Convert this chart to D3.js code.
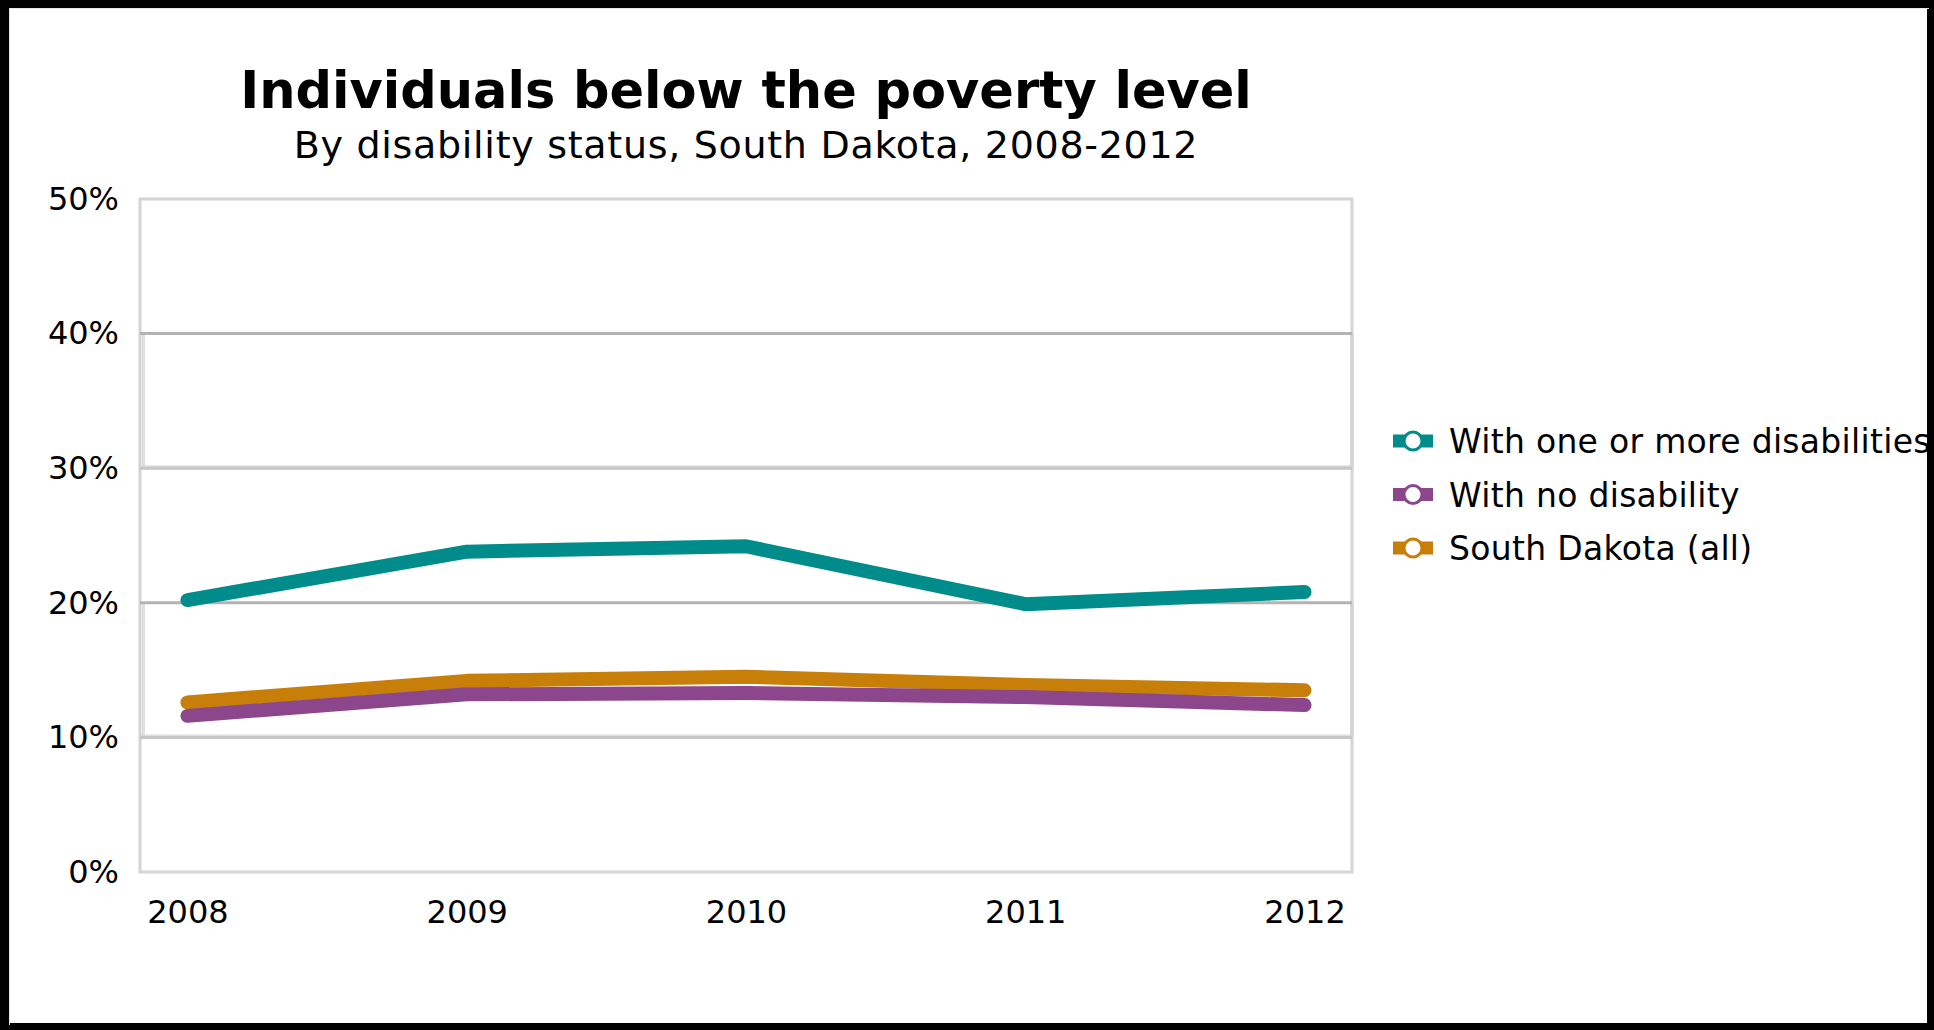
<!DOCTYPE html>
<html lang="en">
<head>
    <meta charset="UTF-8">
    <title>Individuals below the poverty level</title>
    <style>
        body {
            margin: 0;
            background: #ffffff;
            overflow: hidden;
        }
        svg text {
            font-family: "DejaVu Sans", sans-serif;
            fill: #000;
        }
    </style>
</head>
<body>
    <svg id="chart" width="1934" height="1030"></svg>
    <script src="https://d3js.org/d3.v7.min.js"></script>
    <script>
        // data (percent)
        const years = ["2008", "2009", "2010", "2011", "2012"];
        const withDisability = [20.2, 23.8, 24.2, 19.9, 20.8];
        const noDisability = [11.6, 13.2, 13.3, 13.0, 12.4];
        const southDakotaAll = [12.6, 14.2, 14.5, 13.9, 13.5];
        const yTicks = [0, 10, 20, 30, 40, 50];

        const seriesNames = ["With one or more disabilities", "With no disability", "South Dakota (all)"];
        const seriesColors = ["#008c8a", "#8c468c", "#c77f0a"];
        const seriesValues = [withDisability, noDisability, southDakotaAll];

        const series = seriesNames.map((name, i) => ({
            name: name,
            color: seriesColors[i],
            values: seriesValues[i].map((v, j) => ({ year: years[j], value: v }))
        }));

        const svg = d3.select("#chart");
        const W = 1934, H = 1030;

        // outer black frame
        svg.append("rect")
            .attr("x", 0).attr("y", 0).attr("width", W).attr("height", H)
            .attr("fill", "#ffffff");
        svg.append("path")
            .attr("d", `M4.5,0V${H}M0,4H${W}M${W - 2.5},0V${H}M0,${H - 2.5}H${W}`)
            .attr("stroke", "#000").attr("stroke-width", 9).attr("fill", "none");
        svg.append("path")
            .attr("d", `M9.5,8V${H - 5}M9,8.5H${W - 5}`)
            .attr("stroke", "#e6e6e6").attr("stroke-width", 1).attr("fill", "none");

        const plot = { left: 140, right: 1352, top: 199, bottom: 872 };

        const x = d3.scalePoint()
            .domain(years)
            .range([plot.left, plot.right])
            .padding(0.17);

        const y = d3.scaleLinear()
            .domain([0, 50])
            .range([plot.bottom, plot.top]);

        const g = svg.append("g");

        // alternating bands with bevelled edges
        [[30, 40], [10, 20]].forEach(([lo, hi]) => {
            const band = g.append("g");
            band.append("line")
                .attr("x1", x.range()[0] + 3.5).attr("x2", x.range()[0] + 3.5)
                .attr("y1", y(hi)).attr("y2", y(lo))
                .attr("stroke", "#dedede").attr("stroke-width", 3);
            band.append("line")
                .attr("x1", plot.left).attr("x2", plot.right)
                .attr("y1", y(lo) - 2).attr("y2", y(lo) - 2)
                .attr("stroke", "#dedede").attr("stroke-width", 2);
            band.append("line")
                .attr("x1", plot.right).attr("x2", plot.right)
                .attr("y1", y(hi)).attr("y2", y(lo))
                .attr("stroke", "#bcbcbc").attr("stroke-width", 3);
        });

        // outer plot border
        g.append("rect")
            .attr("x", plot.left).attr("y", plot.top)
            .attr("width", plot.right - plot.left).attr("height", plot.bottom - plot.top)
            .attr("fill", "none").attr("stroke", "#d4d4d4").attr("stroke-width", 3);

        // gridlines
        g.selectAll(".grid")
            .data(yTicks.filter(t => t > 0 && t < 50))
            .enter().append("line")
            .attr("class", "grid")
            .attr("x1", plot.left).attr("x2", plot.right)
            .attr("y1", d => y(d)).attr("y2", d => y(d))
            .attr("stroke", d => (d % 20 === 0 ? "#b3b3b3" : "#c6c6c6"))
            .attr("stroke-width", 3);

        // axes
        const yAxis = g.append("g")
            .attr("transform", `translate(${plot.left},0)`)
            .call(d3.axisLeft(y).tickValues(yTicks).tickFormat(d => d + "%").tickSize(0).tickPadding(21));
        yAxis.select(".domain").remove();
        yAxis.selectAll("text")
            .attr("font-size", 32)
            .attr("font-family", "DejaVu Sans, sans-serif")
            .attr("fill", "#000");

        const xAxis = g.append("g")
            .attr("transform", `translate(0,${plot.bottom})`)
            .call(d3.axisBottom(x).tickSize(0).tickPadding(28));
        xAxis.select(".domain").remove();
        xAxis.selectAll("text")
            .attr("font-size", 32)
            .attr("font-family", "DejaVu Sans, sans-serif")
            .attr("fill", "#000");

        // lines
        const line = d3.line()
            .x(d => x(d.year))
            .y(d => y(d.value));

        const drawOrder = [0, 2, 1];
        g.selectAll(".series")
            .data(drawOrder.map(i => series[i]))
            .enter().append("path")
            .attr("class", "series")
            .attr("d", d => line(d.values))
            .attr("fill", "none")
            .attr("stroke", d => d.color)
            .attr("stroke-width", 14)
            .attr("stroke-linecap", "round")
            .attr("stroke-linejoin", "round");

        // titles
        const cx = (plot.left + plot.right) / 2;
        svg.append("text")
            .attr("x", cx).attr("y", 108)
            .attr("text-anchor", "middle")
            .attr("font-size", 51)
            .attr("font-weight", "bold")
            .text("Individuals below the poverty level");
        svg.append("text")
            .attr("x", cx).attr("y", 158)
            .attr("text-anchor", "middle")
            .attr("font-size", 38)
            .attr("letter-spacing", 0.7)
            .text("By disability status, South Dakota, 2008-2012");

        // legend
        const legend = svg.append("g").attr("transform", "translate(1393,441)");
        const item = legend.selectAll(".item")
            .data(series)
            .enter().append("g")
            .attr("class", "item")
            .attr("transform", (d, i) => `translate(0,${i * 53.5})`);
        item.append("line")
            .attr("x1", 0).attr("x2", 40)
            .attr("stroke", d => d.color).attr("stroke-width", 13);
        item.append("circle")
            .attr("cx", 20).attr("r", 9)
            .attr("fill", "#fff")
            .attr("stroke", d => d.color).attr("stroke-width", 3);
        item.append("text")
            .attr("x", 56).attr("y", 12)
            .attr("font-size", 33)
            .attr("letter-spacing", 0.3)
            .text(d => d.name);

        // redraw right frame edge over clipped legend text
        svg.append("rect")
            .attr("x", W - 5).attr("y", 0).attr("width", 5).attr("height", H)
            .attr("fill", "#000");
    </script>
</body>
</html>
